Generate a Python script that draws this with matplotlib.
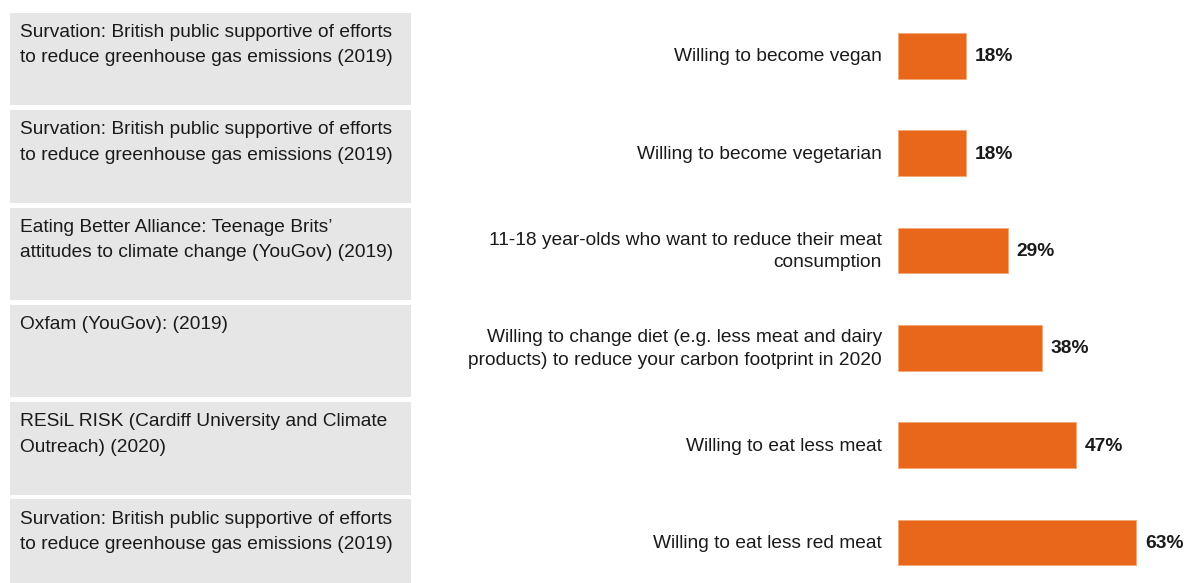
import matplotlib.pyplot as plt
from matplotlib.patches import Rectangle
from matplotlib.transforms import blended_transform_factory

plt.rcParams['font.family'] = ['Liberation Sans', 'DejaVu Sans']

sources = [
    "Survation: British public supportive of efforts\nto reduce greenhouse gas emissions (2019)",
    "Survation: British public supportive of efforts\nto reduce greenhouse gas emissions (2019)",
    "Eating Better Alliance: Teenage Brits\u2019\nattitudes to climate change (YouGov) (2019)",
    "Oxfam (YouGov): (2019)",
    "RESiL RISK (Cardiff University and Climate\nOutreach) (2020)",
    "Survation: British public supportive of efforts\nto reduce greenhouse gas emissions (2019)",
]
labels = [
    "Willing to become vegan",
    "Willing to become vegetarian",
    "11-18 year-olds who want to reduce their meat\nconsumption",
    "Willing to change diet (e.g. less meat and dairy\nproducts) to reduce your carbon footprint in 2020",
    "Willing to eat less meat",
    "Willing to eat less red meat",
]
values = [18, 18, 29, 38, 47, 63]

orange = '#E8671A'
grey = '#E6E6E6'
fs = 13.8

W, H = 1190, 583
fig = plt.figure(figsize=(W / 100, H / 100), dpi=100)

# bar area starts at x=898px, 1% = 3.78px, rows 97.3px apart
x0 = 898
ppp = 3.78
pitch = 97.3
c0 = 56
ax = fig.add_axes([x0 / W, 0, (W - x0) / W, 1])
ax.set_xlim(0, (W - x0) / ppp)
ax.set_ylim((H - c0) / pitch, -c0 / pitch)
ax.axis('off')

rows = list(range(len(values)))
ax.barh(rows, values, height=0.47, color=orange, edgecolor='#F5A878', linewidth=0.6)

tr = blended_transform_factory(fig.transFigure, ax.transData)
for i in rows:
    ax.add_patch(Rectangle((10 / W, i - 43 / pitch), 401 / W, 92.5 / pitch,
                           transform=tr, facecolor=grey, edgecolor='none',
                           clip_on=False))
    ax.text(20 / W, i - 32 / pitch, sources[i], transform=tr, ha='left', va='top',
            fontsize=fs, color='#1a1a1a', linespacing=1.65)
    ax.text(-16 / ppp, i + 0.01, labels[i], ha='right', va='center', fontsize=fs,
            color='#1a1a1a', linespacing=1.42, clip_on=False)
    ax.text(values[i] + 9 / ppp, i + 0.01, f"{values[i]}%", ha='left', va='center',
            fontsize=fs, fontweight='bold', color='#1a1a1a', clip_on=False)

fig.savefig('out.png', dpi=100)
